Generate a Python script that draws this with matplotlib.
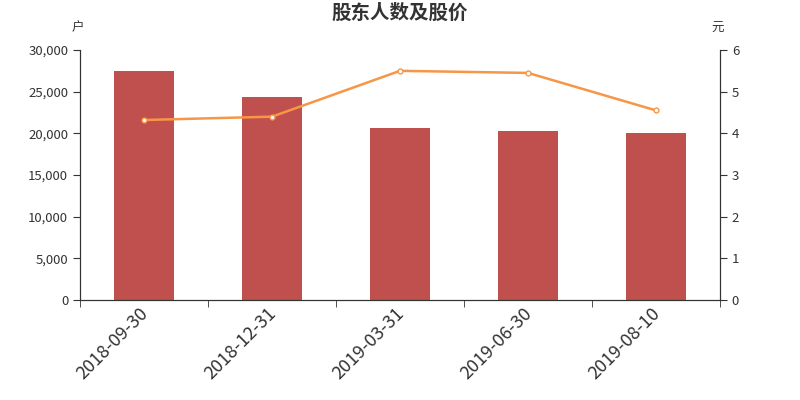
import numpy as np
import matplotlib
matplotlib.use("Agg")
import matplotlib.pyplot as plt
from matplotlib.ticker import FuncFormatter

plt.rcParams['font.family'] = ['Noto Sans CJK SC', 'DejaVu Sans']

dates = ['2018-09-30', '2018-12-31', '2019-03-31', '2019-06-30', '2019-08-10']
holders = [27450, 24380, 20700, 20250, 20100]
price = [4.32, 4.40, 5.50, 5.45, 4.55]

fig = plt.figure(figsize=(8, 4), dpi=100)
ax = fig.add_axes([0.1, 0.25, 0.8, 0.625])
ax2 = ax.twinx()

x = np.arange(len(dates))
ax.bar(x, holders, width=0.47, color='#c0504d', zorder=2)
ax2.plot(x, price, color='#f79646', lw=1.8, marker='o', ms=3.5,
         mfc='white', mec='#f79646', mew=1, zorder=3)

ax.set_xlim(-0.5, len(dates) - 0.5)
ax.set_ylim(0, 30000)
ax2.set_ylim(0, 6)
ax.set_yticks(range(0, 30001, 5000))
ax2.set_yticks(range(0, 7))
ax.yaxis.set_major_formatter(FuncFormatter(lambda v, p: f'{int(v):,}'))

ax.set_xticks(x - 0.04)
ax.set_xticklabels(dates, rotation=45, ha='right', rotation_mode='anchor', fontsize=13, color='#333333')
ax.set_xticks(np.arange(-0.5, len(dates), 1), minor=True)
ax.tick_params(axis='x', which='major', length=0, pad=3)
ax.tick_params(axis='x', which='minor', length=5, color='#333333')
ax.tick_params(axis='y', labelsize=9.5, colors='#333333', length=5)
ax2.tick_params(axis='y', labelsize=9.5, colors='#333333', length=5)

for a in (ax, ax2):
    a.spines['top'].set_visible(False)
    for s in ('left', 'right', 'bottom'):
        a.spines[s].set_color('#333333')

fig.text(0.5, 0.967, '股东人数及股价', ha='center', va='center', fontsize=14, fontweight='bold', color='#333333')
fig.text(0.0975, 0.93, '户', ha='center', va='center', fontsize=9, color='#333333')
fig.text(0.8975, 0.93, '元', ha='center', va='center', fontsize=9, color='#333333')

fig.savefig('out.png', dpi=100)
